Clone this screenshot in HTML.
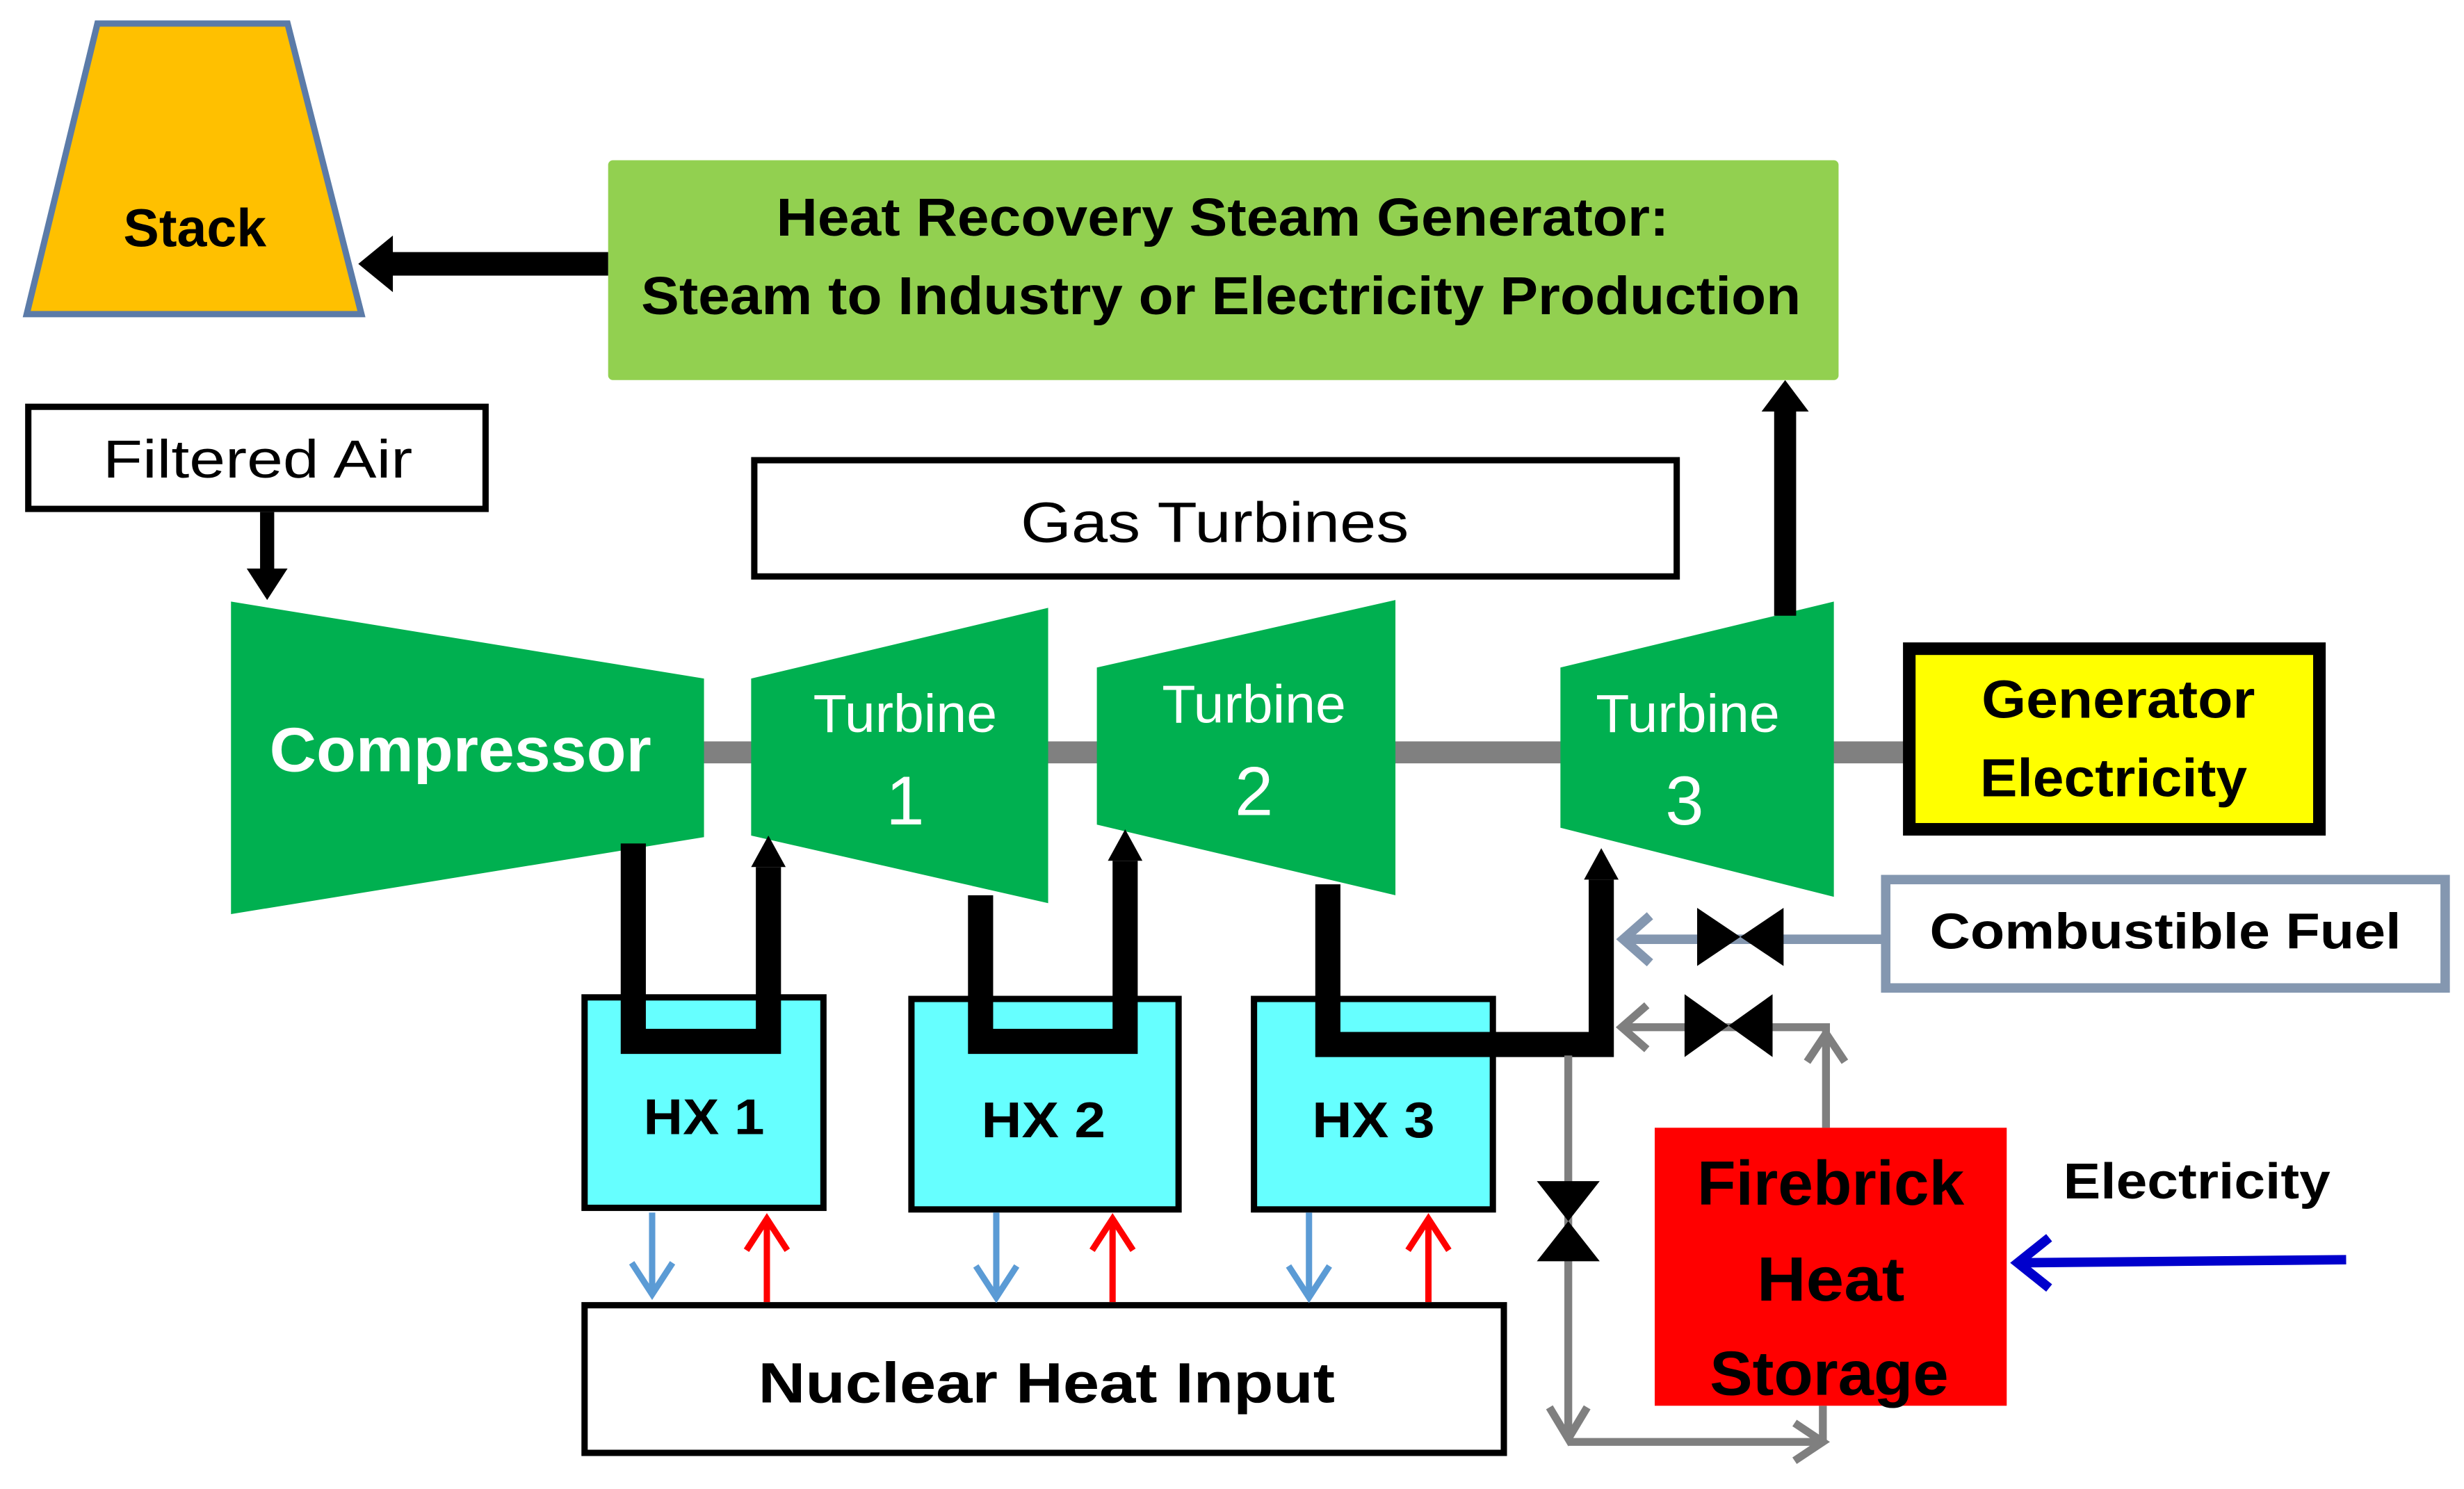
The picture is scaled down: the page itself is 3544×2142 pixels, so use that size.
<!DOCTYPE html>
<html><head><meta charset="utf-8"><style>html,body{margin:0;padding:0;background:#fff}svg{display:block}text{font-family:"Liberation Sans",sans-serif}</style></head>
<body>
<svg width="3544" height="2142" viewBox="0 0 1568 948" preserveAspectRatio="none" xmlns="http://www.w3.org/2000/svg">
<defs>
<marker id="ab" markerWidth="4" markerHeight="4" refX="2" refY="2" orient="auto" markerUnits="strokeWidth"><path d="M0,0 L4,2 L0,4 Z" fill="#000"/></marker>
</defs>
<rect width="1568" height="948" fill="#fff"/>
<!-- Stack -->
<polygon points="62,15 183,15 230,200 17,200" fill="#FFC000" stroke="#5B7BA8" stroke-width="4"/>
<text x="124" y="157" font-size="34" font-weight="bold" text-anchor="middle" textLength="91" lengthAdjust="spacingAndGlyphs">Stack</text>
<!-- HRSG -->
<rect x="387" y="102" width="783" height="140" rx="3" fill="#92D050"/>
<text x="778" y="150" font-size="34" font-weight="bold" text-anchor="middle" textLength="568" lengthAdjust="spacingAndGlyphs">Heat Recovery Steam Generator:</text>
<text x="777" y="200" font-size="34" font-weight="bold" text-anchor="middle" textLength="738" lengthAdjust="spacingAndGlyphs">Steam to Industry or Electricity Production</text>
<line x1="387" y1="168" x2="248" y2="168" stroke="#000" stroke-width="15"/>
<polygon points="228,168 250,150 250,186" fill="#000"/>
<!-- Filtered air -->
<rect x="18" y="259" width="291" height="65" fill="#fff" stroke="#000" stroke-width="4"/>
<text x="164" y="304" font-size="34" text-anchor="middle" textLength="197" lengthAdjust="spacingAndGlyphs">Filtered  Air</text>
<line x1="170" y1="326" x2="170" y2="365" stroke="#000" stroke-width="9"/>
<polygon points="170,382 157,362 183,362" fill="#000"/>
<!-- Gas Turbines -->
<rect x="480" y="293" width="587" height="74" fill="#fff" stroke="#000" stroke-width="4"/>
<text x="773" y="345" font-size="36" text-anchor="middle" textLength="247" lengthAdjust="spacingAndGlyphs">Gas Turbines</text>
<!-- shaft -->
<line x1="440" y1="479" x2="1214" y2="479" stroke="#808080" stroke-width="14"/>
<!-- Compressor -->
<polygon points="147,383 448,432 448,533 147,582" fill="#00B050"/>
<text x="293" y="491" font-size="40" font-weight="bold" fill="#fff" text-anchor="middle" textLength="243" lengthAdjust="spacingAndGlyphs">Compressor</text>
<!-- Turbines -->
<polygon points="478,432 667,387 667,575 478,532" fill="#00B050"/>
<text x="576" y="466" font-size="34" fill="#fff" text-anchor="middle" textLength="117" lengthAdjust="spacingAndGlyphs">Turbine</text>
<text x="576" y="525" font-size="44" fill="#fff" text-anchor="middle">1</text>
<polygon points="698,425 888,382 888,570 698,525" fill="#00B050"/>
<text x="798" y="460" font-size="34" fill="#fff" text-anchor="middle" textLength="117" lengthAdjust="spacingAndGlyphs">Turbine</text>
<text x="798" y="519" font-size="44" fill="#fff" text-anchor="middle">2</text>
<polygon points="993,425 1167,383 1167,571 993,527" fill="#00B050"/>
<text x="1074" y="466" font-size="34" fill="#fff" text-anchor="middle" textLength="117" lengthAdjust="spacingAndGlyphs">Turbine</text>
<text x="1072" y="525" font-size="44" fill="#fff" text-anchor="middle">3</text>
<!-- Generator -->
<rect x="1215" y="413" width="261" height="115" fill="#FFFF00" stroke="#000" stroke-width="8"/>
<text x="1348" y="457" font-size="34" font-weight="bold" text-anchor="middle" textLength="174" lengthAdjust="spacingAndGlyphs">Generator</text>
<text x="1345" y="507" font-size="34" font-weight="bold" text-anchor="middle" textLength="170" lengthAdjust="spacingAndGlyphs">Electricity</text>
<!-- up arrow to HRSG -->
<line x1="1136" y1="392" x2="1136" y2="258" stroke="#000" stroke-width="14"/>
<polygon points="1136,242 1121,262 1151,262" fill="#000"/>
<!-- HX boxes -->
<rect x="372" y="635" width="152" height="134" fill="#66FFFF" stroke="#000" stroke-width="4"/>
<rect x="580" y="636" width="170" height="134" fill="#66FFFF" stroke="#000" stroke-width="4"/>
<rect x="798" y="636" width="152" height="134" fill="#66FFFF" stroke="#000" stroke-width="4"/>
<text x="448" y="722" font-size="32" font-weight="bold" text-anchor="middle" textLength="77" lengthAdjust="spacingAndGlyphs">HX 1</text>
<text x="664" y="724" font-size="32" font-weight="bold" text-anchor="middle" textLength="79" lengthAdjust="spacingAndGlyphs">HX 2</text>
<text x="874" y="724" font-size="32" font-weight="bold" text-anchor="middle" textLength="78" lengthAdjust="spacingAndGlyphs">HX 3</text>
<!-- pipes -->
<polyline points="403,537 403,663 489,663 489,552" fill="none" stroke="#000" stroke-width="16"/>
<polygon points="489,532 478,552 500,552" fill="#000"/>
<polyline points="624,570 624,663 716,663 716,548" fill="none" stroke="#000" stroke-width="16"/>
<polygon points="716,528 705,548 727,548" fill="#000"/>
<polyline points="845,563 845,665 1019,665 1019,560" fill="none" stroke="#000" stroke-width="16"/>
<polygon points="1019,540 1008,560 1030,560" fill="#000"/>
<!-- Nuclear -->
<rect x="372" y="831" width="585" height="94" fill="#fff" stroke="#000" stroke-width="4"/>
<text x="666" y="893" font-size="36" font-weight="bold" text-anchor="middle" textLength="367" lengthAdjust="spacingAndGlyphs">Nuclear Heat Input</text>
<!-- blue/red arrows -->
<g stroke="#5B9BD5" stroke-width="4" fill="none">
<line x1="415" y1="772" x2="415" y2="824"/><polyline points="402,804 415,824 428,804"/>
<line x1="634" y1="772" x2="634" y2="826"/><polyline points="621,806 634,826 647,806"/>
<line x1="833" y1="772" x2="833" y2="826"/><polyline points="820,806 833,826 846,806"/>
</g>
<g stroke="#FF0000" stroke-width="4" fill="none">
<line x1="488" y1="829" x2="488" y2="776"/><polyline points="475,796 488,776 501,796"/>
<line x1="708" y1="829" x2="708" y2="776"/><polyline points="695,796 708,776 721,796"/>
<line x1="909" y1="829" x2="909" y2="776"/><polyline points="896,796 909,776 922,796"/>
</g>
<!-- Combustible fuel -->
<rect x="1200" y="560" width="356" height="69" fill="#fff" stroke="#8497B0" stroke-width="6"/>
<text x="1378" y="604" font-size="32" font-weight="bold" text-anchor="middle" textLength="300" lengthAdjust="spacingAndGlyphs">Combustible Fuel</text>
<g stroke="#8497B0" stroke-width="6" fill="none">
<line x1="1199" y1="598" x2="1033" y2="598"/><polyline points="1050,583 1033,598 1050,613"/>
</g>
<polygon points="1080,578 1135,615 1135,578 1080,615" fill="#000"/>
<!-- gray loop -->
<g stroke="#7F7F7F" stroke-width="5" fill="none">
<polyline points="1162,718 1162,654 1032,654"/><polyline points="1048,640 1032,654 1048,668"/>
<polyline points="1150,676 1162,658 1174,676"/>
<line x1="998" y1="672" x2="998" y2="916"/><polyline points="986,896 998,916 1010,896"/>
<line x1="998" y1="918" x2="1158" y2="918"/><polyline points="1142,906 1160,918 1142,930"/>
<line x1="1160" y1="895" x2="1160" y2="918"/>
</g>
<polygon points="1072,633 1128,673 1128,633 1072,673" fill="#000"/>
<polygon points="978,752 1018,752 978,803 1018,803" fill="#000"/>
<!-- Firebrick -->
<rect x="1053" y="718" width="224" height="177" fill="#FF0000"/>
<text x="1165" y="767" font-size="40" font-weight="bold" text-anchor="middle" textLength="170" lengthAdjust="spacingAndGlyphs">Firebrick</text>
<text x="1165" y="828" font-size="40" font-weight="bold" text-anchor="middle" textLength="94" lengthAdjust="spacingAndGlyphs">Heat</text>
<text x="1164" y="888" font-size="40" font-weight="bold" text-anchor="middle" textLength="152" lengthAdjust="spacingAndGlyphs">Storage</text>
<text x="1398" y="763" font-size="32" font-weight="bold" text-anchor="middle" textLength="170" lengthAdjust="spacingAndGlyphs">Electricity</text>
<g stroke="#0000CC" stroke-width="6" fill="none">
<line x1="1493" y1="802" x2="1284" y2="804"/><polyline points="1304,788 1284,804 1304,820"/>
</g>
</svg>
</body></html>
